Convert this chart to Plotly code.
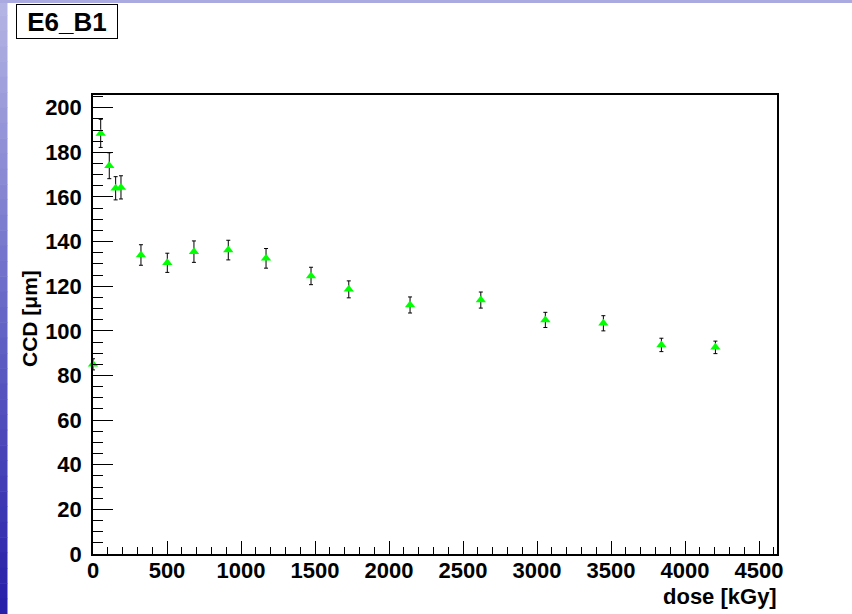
import plotly.graph_objects as go

# ---- data ----
dose_kGy = [0, 52, 110, 153, 189, 324, 502, 682, 914, 1169, 1473, 1728, 2142, 2620, 3056, 3448, 3840, 4205]
ccd_um = [85.0, 188.5, 174.0, 163.9, 164.3, 134.0, 130.5, 135.5, 136.2, 132.5, 124.6, 118.6, 111.6, 113.8, 104.9, 103.4, 93.7, 92.6]
ccd_err = [2.5, 6.3, 5.8, 5.2, 5.2, 4.6, 4.3, 4.8, 4.4, 4.4, 3.9, 3.8, 3.6, 3.6, 3.4, 3.4, 3.0, 2.8]

x_tick_vals = [0, 500, 1000, 1500, 2000, 2500, 3000, 3500, 4000, 4500]
y_tick_vals = [0, 20, 40, 60, 80, 100, 120, 140, 160, 180, 200]

W, H = 852, 614
L, R, T, B = 93, 75, 95, 60
pw, ph = W - L - R, H - T - B

def px2paper_x(px):
    return (px - L) / pw

def px2paper_y(py):
    return (H - B - py) / ph

FONT = "Liberation Sans, Arial, sans-serif"

fig = go.Figure()
fig.add_trace(go.Scatter(
    x=dose_kGy, y=ccd_um, mode="markers",
    marker=dict(symbol="triangle-up", size=9, color="#00ff00", line=dict(width=0)),
    error_y=dict(type="data", array=ccd_err, visible=True, color="black", thickness=1, width=2),
    showlegend=False, cliponaxis=False,
))

axis_common = dict(
    showgrid=False, zeroline=False, showline=True, linecolor="black", linewidth=1.5,
    mirror=True, ticks="inside", tickcolor="black", tickwidth=1,
    tickfont=dict(family=FONT, size=22, color="black", weight="bold"),
)

fig.update_xaxes(
    range=[0, 4621], tickvals=x_tick_vals, ticktext=[str(v) for v in x_tick_vals],
    ticklen=13, minor=dict(dtick=100, ticklen=7, ticks="inside", tickcolor="black", tickwidth=1),
    ticklabelstandoff=-4, **axis_common,
)
fig.update_yaxes(
    range=[0, 205.7], tickvals=y_tick_vals, ticktext=[str(v) for v in y_tick_vals],
    ticklen=20, minor=dict(dtick=5, ticklen=10, ticks="inside", tickcolor="black", tickwidth=1),
    ticklabelstandoff=5, **axis_common,
)

shapes = []
# slide background: left gradient strip
n = 40
top_c = (180, 180, 228)
mid_c = (104, 104, 200)
bot_c = (40, 32, 168)
for i in range(n):
    f = i / (n - 1)
    if f < 0.5:
        g = f / 0.5
        c = tuple(int(top_c[k] + (mid_c[k] - top_c[k]) * g) for k in range(3))
    else:
        g = (f - 0.5) / 0.5
        c = tuple(int(mid_c[k] + (bot_c[k] - mid_c[k]) * g) for k in range(3))
    y0 = H * i / n
    y1 = H * (i + 1) / n + 0.5
    shapes.append(dict(type="rect", xref="paper", yref="paper",
                       x0=px2paper_x(0), x1=px2paper_x(7.5),
                       y0=px2paper_y(y1), y1=px2paper_y(y0),
                       fillcolor="rgb(%d,%d,%d)" % c, line=dict(width=0), layer="below"))
# top strip
shapes.append(dict(type="rect", xref="paper", yref="paper",
                   x0=px2paper_x(0), x1=px2paper_x(W),
                   y0=px2paper_y(3), y1=px2paper_y(0),
                   fillcolor="rgb(170,170,224)", line=dict(width=0), layer="below"))

annotations = [
    dict(text="E6_B1", xref="paper", yref="paper", x=px2paper_x(16), y=px2paper_y(4),
         xanchor="left", yanchor="top", showarrow=False,
         font=dict(family=FONT, size=26, color="black", weight="bold"),
         bgcolor="white", bordercolor="black", borderwidth=1, borderpad=1,
         width=98, height=31, align="center", valign="middle"),
    dict(text="dose [kGy]", xref="paper", yref="paper", x=px2paper_x(779), y=px2paper_y(611),
         xanchor="right", yanchor="bottom", showarrow=False,
         font=dict(family=FONT, size=22, color="black", weight="bold")),
    dict(text="CCD [μm]", xref="paper", yref="paper", x=px2paper_x(29), y=px2paper_y(319),
         xanchor="center", yanchor="middle", textangle=-90, showarrow=False,
         font=dict(family=FONT, size=21, color="black", weight="bold")),
]

fig.update_layout(
    width=W, height=H, margin=dict(l=L, r=R, t=T, b=B, pad=0),
    paper_bgcolor="white", plot_bgcolor="white",
    shapes=shapes, annotations=annotations,
)

fig.write_html("out.html")
